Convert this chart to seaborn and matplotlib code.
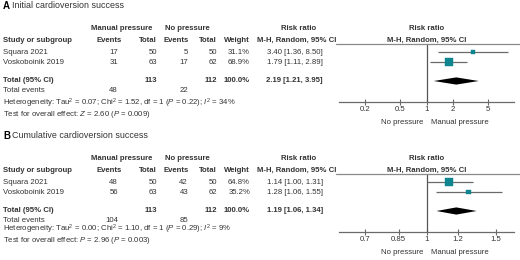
import numpy as np
import pandas as pd
import seaborn as sns
import matplotlib.pyplot as plt
import matplotlib.transforms as mtransforms
from matplotlib.lines import Line2D

# ============================================================================
# Data
# ============================================================================
STUDIES = ['Squara 2021', 'Voskoboinik 2019']

# Panel A: initial cardioversion success
manual_events_a = [17, 31]
manual_total_a = [50, 63]
none_events_a = [5, 17]
none_total_a = [50, 62]
weight_a = [31.1, 68.9]
rr_a = [3.40, 1.79]
rr_lo_a = [1.36, 1.11]
rr_hi_a = [8.50, 2.89]
pooled_a = [2.19, 1.21, 3.95]
totals_a = [113, 112]
total_events_a = [48, 22]
het_a = 'Heterogeneity: Tau$^2$ = 0.07; Chi$^2$ = 1.52, df = 1 ($\\mathit{P}$ = 0.22); $\\mathit{I}^2$ = 34%'
test_a = 'Test for overall effect: $\\mathit{Z}$ = 2.60 ($\\mathit{P}$ = 0.009)'
ticks_a = [0.2, 0.5, 1, 2, 5]
tick_labels_a = ['0.2', '0.5', '1', '2', '5']

# Panel B: cumulative cardioversion success
manual_events_b = [48, 56]
manual_total_b = [50, 63]
none_events_b = [42, 43]
none_total_b = [50, 62]
weight_b = [64.8, 35.2]
rr_b = [1.14, 1.28]
rr_lo_b = [1.00, 1.06]
rr_hi_b = [1.31, 1.55]
pooled_b = [1.19, 1.06, 1.34]
totals_b = [113, 112]
total_events_b = [104, 85]
het_b = 'Heterogeneity: Tau$^2$ = 0.00; Chi$^2$ = 1.10, df = 1 ($\\mathit{P}$ = 0.29); $\\mathit{I}^2$ = 9%'
test_b = 'Test for overall effect: $\\mathit{P}$ = 2.96 ($\\mathit{P}$ = 0.003)'
ticks_b = [0.7, 0.85, 1, 1.2, 1.5]
tick_labels_b = ['0.7', '0.85', '1', '1.2', '1.5']

TEAL = '#0f8590'
TXT = '#333333'
FS = 5.6

sns.set_theme(style='white')
plt.rcParams['font.family'] = ['Liberation Sans', 'DejaVu Sans']
plt.rcParams['mathtext.fontset'] = 'custom'
plt.rcParams['mathtext.rm'] = 'Liberation Sans'
plt.rcParams['mathtext.it'] = 'Liberation Sans:italic'
plt.rcParams['mathtext.bf'] = 'Liberation Sans:bold'

W, H = 520, 260
fig = plt.figure(figsize=(W / 100, H / 100), dpi=100)
fig.patch.set_facecolor('white')
# pixel coordinates (origin top-left)
PX = mtransforms.Affine2D().scale(1 / W, -1 / H).translate(0, 1) + fig.transFigure


def txt(x, y, s, ha='left', bold=False, size=FS, **kw):
    fig.text(x, y, s, transform=PX, ha=ha, va='center', fontsize=size,
             fontweight='bold' if bold else 'normal', color=TXT, **kw)


def panel(top, letter, title, me, mt, ne, nt, wt, rr, lo, hi, pooled, totals,
          tev, het, test, ticks, tick_labels, xlim, foot_y):
    # --- title and headers ---
    fig.text(3, top + 6, letter, transform=PX, ha='left', va='center',
             fontsize=7, fontweight='bold', color='black')
    txt(12, top + 6, title, size=6.4)
    hy1, hy2 = top + 28, top + 40
    txt(122, hy1, 'Manual pressure', ha='center', bold=True)
    txt(187, hy1, 'No pressure', ha='center', bold=True)
    txt(299, hy1, 'Risk ratio', ha='center', bold=True)
    txt(427, hy1, 'Risk ratio', ha='center', bold=True)
    txt(3, hy2, 'Study or subgroup', bold=True)
    for x, s in [(122, 'Events'), (157, 'Total'), (189, 'Events'),
                 (217, 'Total'), (250, 'Weight')]:
        txt(x, hy2, s, ha='right', bold=True)
    txt(297, hy2, 'M-H, Random, 95% CI', ha='center', bold=True)
    txt(427, hy2, 'M-H, Random, 95% CI', ha='center', bold=True)
    fig.add_artist(Line2D([336 / W, 1], [1 - (top + 44) / H] * 2,
                          color='#8a8a8a', lw=0.9))

    # --- study rows ---
    rows = [0, 1]
    total_row = 2.9
    row_px = lambda r: top + 52 + r * 10
    for i, r in enumerate(rows):
        y = row_px(r)
        txt(3, y, STUDIES[i])
        txt(118, y, str(me[i]), ha='right')
        txt(157, y, str(mt[i]), ha='right')
        txt(188, y, str(ne[i]), ha='right')
        txt(217, y, str(nt[i]), ha='right')
        txt(250, y, f'{wt[i]:.1f}%', ha='right')
        txt(323, y, f'{rr[i]:.2f} [{lo[i]:.2f}, {hi[i]:.2f}]', ha='right')
    y = row_px(total_row)
    txt(3, y, 'Total (95% CI)', bold=True)
    txt(157, y, str(totals[0]), ha='right', bold=True)
    txt(217, y, str(totals[1]), ha='right', bold=True)
    txt(250, y, '100.0%', ha='right', bold=True)
    txt(323, y, f'{pooled[0]:.2f} [{pooled[1]:.2f}, {pooled[2]:.2f}]',
        ha='right', bold=True)
    txt(3, foot_y[0], 'Total events')
    txt(118, foot_y[0], str(tev[0]), ha='right')
    txt(188, foot_y[0], str(tev[1]), ha='right')
    txt(3, foot_y[1], het)
    txt(3, foot_y[2], test)

    # --- forest axes ---
    ax = fig.add_axes([339 / W, 1 - (top + 102) / H, 175 / W, 58 / H])
    ax.set_facecolor('none')
    ax.set_xscale('log')
    ax.set_xlim(*xlim)
    ax.set_ylim(5.0, -0.8)
    df = pd.DataFrame({'rr': rr, 'lo': lo, 'hi': hi, 'weight': wt, 'row': rows})
    ax.hlines(df['row'], df['lo'], df['hi'], color='#6a6a6a', lw=0.9, zorder=2)
    sns.scatterplot(data=df, x='rr', y='row', size='weight', sizes=(9, 36),
                    size_norm=(30, 70), marker='s', color=TEAL, edgecolor=TEAL,
                    linewidth=0.3, legend=False, ax=ax, zorder=3)
    est, plo, phi = pooled
    h = 0.36
    ax.fill([plo, est, phi, est], [total_row, total_row - h, total_row, total_row + h],
            color='black', lw=0, zorder=3)
    ax.axvline(1, color='#555555', lw=0.9, zorder=1)
    for s in ['top', 'left', 'right']:
        ax.spines[s].set_visible(False)
    ax.spines['bottom'].set_color('#6a6a6a')
    ax.spines['bottom'].set_linewidth(0.9)
    ax.set_xticks(ticks)
    ax.set_xticklabels(tick_labels)
    ax.xaxis.set_minor_locator(plt.NullLocator())
    ax.tick_params(axis='x', direction='inout', length=5, width=0.8,
                   color='#6a6a6a', labelsize=FS, labelcolor=TXT, pad=0.5,
                   bottom=True)
    ax.set_yticks([])
    ax.set_xlabel('')
    ax.set_ylabel('')
    txt(402, top + 122, 'No pressure', ha='center')
    txt(460, top + 122, 'Manual pressure', ha='center')
    return ax


panel(0, 'A', 'Initial cardioversion success', manual_events_a, manual_total_a,
      none_events_a, none_total_a, weight_a, rr_a, rr_lo_a, rr_hi_a, pooled_a,
      totals_a, total_events_a, het_a, test_a, ticks_a, tick_labels_a,
      (0.1, 10), (91, 103, 114))
panel(130, 'B', 'Cumulative cardioversion success', manual_events_b, manual_total_b,
      none_events_b, none_total_b, weight_b, rr_b, rr_lo_b, rr_hi_b, pooled_b,
      totals_b, total_events_b, het_b, test_b, ticks_b, tick_labels_b,
      (0.6, 1 / 0.6), (220, 229, 240.5))

fig.savefig('out.png', dpi=100)
